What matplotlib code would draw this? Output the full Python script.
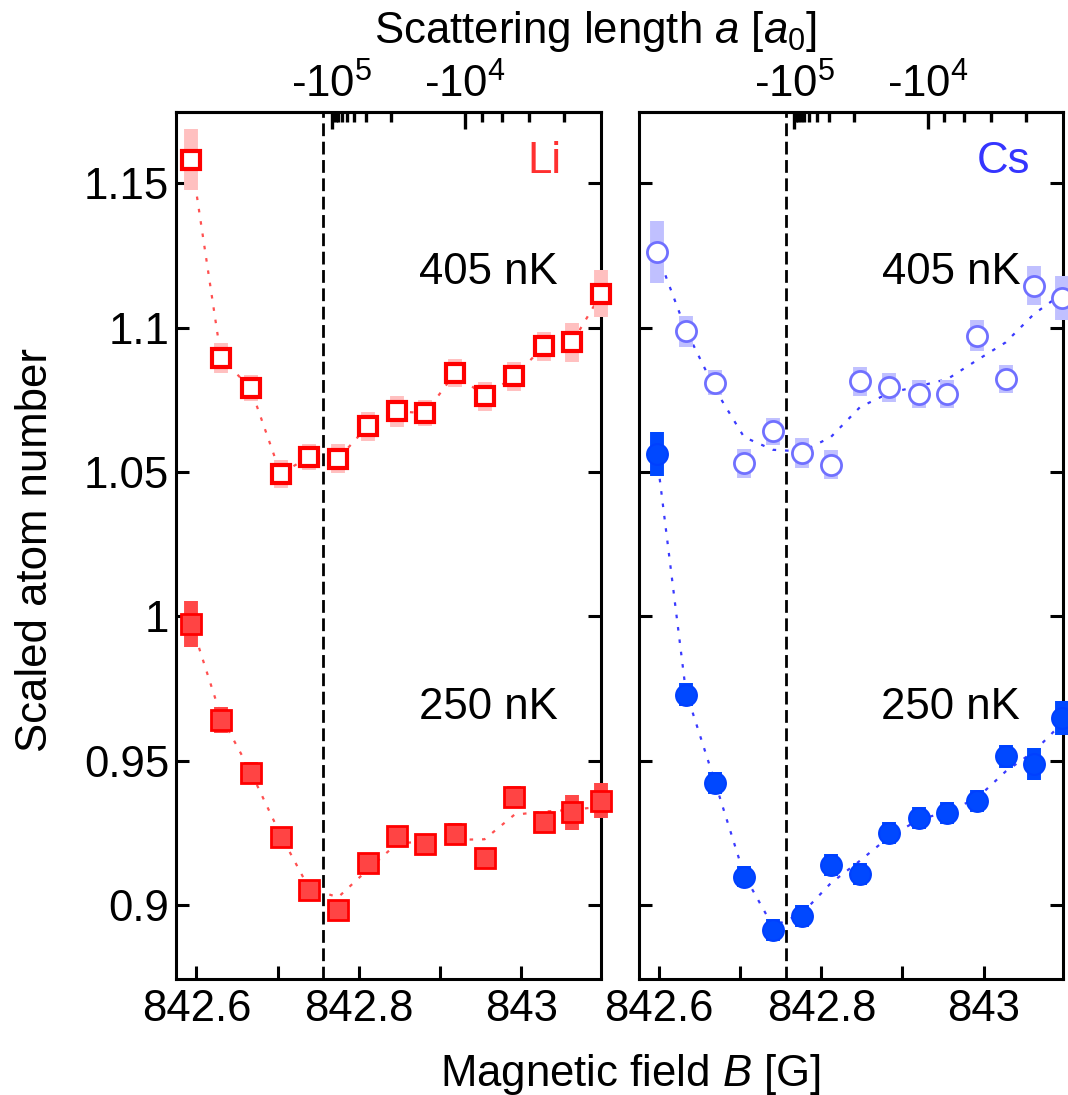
import numpy as np
import matplotlib
matplotlib.use('Agg')
import matplotlib.pyplot as plt

plt.rcParams['font.family'] = ['Liberation Sans', 'DejaVu Sans']
plt.rcParams['mathtext.fontset'] = 'custom'
plt.rcParams['mathtext.rm'] = 'Liberation Sans'
plt.rcParams['mathtext.it'] = 'Liberation Sans:italic'
plt.rcParams['mathtext.bf'] = 'Liberation Sans:bold'

# ---------------- data ----------------
B_li = [842.594, 842.6305, 842.6667, 842.7037, 842.7386, 842.7745, 842.8107, 842.8473,
        842.8819, 842.9185, 842.9547, 842.9914, 843.0275, 843.0626, 843.0984]
li_405 = [1.1582, 1.0895, 1.0791, 1.0494, 1.0552, 1.0546, 1.0658, 1.0710,
          1.0704, 1.0843, 1.0762, 1.0831, 1.0935, 1.0949, 1.1118]
li_405_err = [0.0106, 0.0051, 0.0044, 0.0049, 0.0045, 0.0051, 0.0049, 0.0055,
              0.0045, 0.0049, 0.0051, 0.0049, 0.0049, 0.0068, 0.0082]
li_405_guide = li_405
li_250 = [0.9973, 0.9642, 0.9457, 0.9237, 0.9053, 0.8983, 0.9147, 0.9240,
          0.9212, 0.9247, 0.9163, 0.9376, 0.9289, 0.9321, 0.9362]
li_250_err = [0.0080, 0.0045, 0.0038, 0.0035, 0.0035, 0.0035, 0.0035, 0.0035,
              0.0035, 0.0038, 0.0035, 0.0035, 0.0035, 0.0062, 0.0060]
li_250_guide = [0.9973, 0.9653, 0.9463, 0.9243, 0.9059, 0.9027, 0.9122, 0.9214,
                0.9220, 0.9226, 0.9228, 0.9313, 0.9324, 0.9330, 0.9341]

B_cs = [842.5968, 842.6328, 842.6685, 842.7046, 842.7402, 842.7764, 842.8116, 842.8477,
        842.8838, 842.9198, 842.9555, 842.9917, 843.0273, 843.0621, 843.0969]
cs_405 = [1.1262, 1.0987, 1.0810, 1.0531, 1.0641, 1.0566, 1.0525, 1.0814,
          1.0793, 1.0770, 1.0770, 1.0972, 1.0822, 1.1146, 1.1103]
cs_405_err = [0.0106, 0.0055, 0.0043, 0.0050, 0.0046, 0.0053, 0.0050, 0.0050,
              0.0050, 0.0049, 0.0049, 0.0054, 0.0050, 0.0068, 0.0077]
cs_405_guide = [1.1262, 1.0993, 1.0788, 1.0621, 1.0577, 1.0571, 1.0621, 1.0725,
                1.0774, 1.0797, 1.0822, 1.0887, 1.0949, 1.1047, 1.1118]
cs_250 = [1.0562, 0.9728, 0.9422, 0.9099, 0.8914, 0.8963, 0.9139, 0.9108,
          0.9249, 0.9301, 0.9318, 0.9359, 0.9515, 0.9489, 0.9648]
cs_250_err = [0.0075, 0.0040, 0.0038, 0.0038, 0.0038, 0.0038, 0.0038, 0.0038,
              0.0038, 0.0038, 0.0038, 0.0038, 0.0040, 0.0055, 0.0058]
cs_250_guide = [1.0562, 0.9740, 0.9428, 0.9105, 0.8926, 0.8972, 0.9076, 0.9154,
                0.9237, 0.9295, 0.9324, 0.9370, 0.9463, 0.9532, 0.9630]

y_ticks = [0.9, 0.95, 1.0, 1.05, 1.1, 1.15]
y_ticklabels = ['0.9', '0.95', '1', '1.05', '1.1', '1.15']
x_ticks = [842.6, 842.7, 842.8, 842.9, 843.0]
x_ticklabels = ['842.6', '', '842.8', '', '843']

# scattering-length axis: a = -C / (B - B_pole)
B_pole = 842.7485
C_aB = 1824.0
a_major = [-1e5, -1e4]
a_major_labels = ['-$10^{5}$', '-$10^{4}$']
a_minor = [-9e4, -8e4, -7e4, -6e4, -5e4, -4e4, -3e4, -2e4, -9e3, -8e3, -7e3, -6e3]
B_res_line = 842.756

XLIM = (842.575, 843.098)
YLIM = (0.8744, 1.1747)
FS = 31.5

fig = plt.figure(figsize=(10.68, 10.95), dpi=100)
axL = fig.add_axes([176/1068, 1-979/1095, 425/1068, 867/1095])
axR = fig.add_axes([639/1068, 1-979/1095, 424/1068, 867/1095])

def a_to_B(a):
    return B_pole + C_aB / np.abs(np.asarray(a, dtype=float))

def style(ax, labels):
    ax.set_xlim(*XLIM)
    ax.set_ylim(*YLIM)
    for s in ax.spines.values():
        s.set_linewidth(2.2)
    ax.set_xticks(x_ticks)
    ax.set_xticklabels(x_ticklabels)
    ax.set_yticks(y_ticks)
    if labels:
        ax.set_yticklabels(y_ticklabels)
    else:
        ax.set_yticklabels([])
    ax.tick_params(axis='y', direction='in', length=9.5, width=2.2, labelsize=FS,
                   left=True, right=True, pad=5)
    ax.tick_params(axis='x', direction='in', length=9.5, width=2.2, labelsize=FS,
                   bottom=True, top=False, pad=7)
    ax.axvline(B_res_line, color='black', lw=2.0, ls=(0, (4.6, 2.0)), zorder=1)
    # scattering-length axis on top
    sec = ax.secondary_xaxis('top')
    sec.set_xticks(list(a_to_B(a_major)), a_major_labels)
    sec.set_xticks(list(a_to_B(a_minor)), minor=True)
    sec.tick_params(which='major', direction='in', length=12, width=2.4,
                    labelsize=FS, pad=4, colors='black')
    sec.tick_params(which='minor', direction='in', length=7, width=2.4,
                    colors='black')
    sec.spines['top'].set_linewidth(2.2)
    return sec

def series(ax, B, y, err, guide, ecol, lcol, marker, mfc, mec, ms, mew):
    ax.plot(B, guide, color=lcol, lw=1.6, ls=(0, (1.6, 4.0)), zorder=2, clip_on=False)
    ax.errorbar(B, y, yerr=err, fmt='none', ecolor=ecol, elinewidth=10, capsize=0,
                zorder=3, clip_on=False)
    ax.plot(B, y, ls='none', marker=marker, mfc=mfc, mec=mec, ms=ms, mew=mew,
            zorder=5, clip_on=False)

style(axL, True)
style(axR, False)

# Li panel
series(axL, B_li, li_405, li_405_err, li_405_guide, '#ffc0c0', '#ff5050',
       's', 'white', '#ff0000', 13, 3)
series(axL, B_li, li_250, li_250_err, li_250_guide, '#ff4848', '#ff5050',
       's', '#ff4444', '#ff0000', 14, 2)
# Cs panel
series(axR, B_cs, cs_405, cs_405_err, cs_405_guide, '#c0c0ff', '#3a3aff',
       'o', 'white', '#7070ff', 14.5, 2)
series(axR, B_cs, cs_250, cs_250_err, cs_250_guide, '#0048ff', '#3a3aff',
       'o', '#0048ff', '#0040ff', 15, 1.5)

# texts
axL.text(0.9075, 0.930, 'Li', color='#ff3030', fontsize=FS, ha='right', va='baseline',
         transform=axL.transAxes)
axR.text(0.922, 0.930, 'Cs', color='#3535ff', fontsize=FS, ha='right', va='baseline',
         transform=axR.transAxes)
for ax in (axL, axR):
    ax.text(0.899, 0.8016, '405 nK', fontsize=FS, ha='right', va='baseline',
            transform=ax.transAxes, zorder=6)
    ax.text(0.899, 0.300, '250 nK', fontsize=FS, ha='right', va='baseline',
            transform=ax.transAxes, zorder=6)

fig.text(595/1068, 1-43/1095, 'Scattering length $a$ [$a_0$]', fontsize=FS,
         ha='center', va='baseline')
fig.text(630/1068, 1-1086/1095, 'Magnetic field $B$ [G]', fontsize=FS,
         ha='center', va='baseline')
fig.text(56/1068, 545/1095, 'Scaled atom number', fontsize=FS, rotation=90,
         ha='right', va='center')

fig.savefig('out.png', dpi=100)
